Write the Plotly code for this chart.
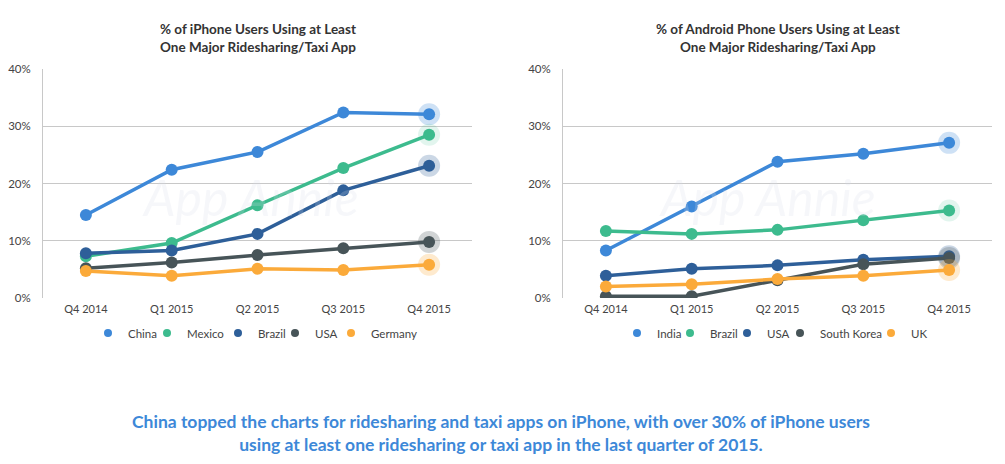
import plotly.graph_objects as go

quarters = ["Q4 2014", "Q1 2015", "Q2 2015", "Q3 2015", "Q4 2015"]

ios_names = ["China", "Mexico", "Brazil", "USA", "Germany"]
ios_china = [14.5, 22.4, 25.5, 32.4, 32.1]
ios_mexico = [7.3, 9.6, 16.2, 22.7, 28.5]
ios_brazil = [7.8, 8.3, 11.2, 18.8, 23.1]
ios_usa = [5.2, 6.2, 7.5, 8.7, 9.8]
ios_germany = [4.7, 3.9, 5.1, 4.9, 5.8]

and_names = ["India", "Brazil", "USA", "South Korea", "UK"]
and_india = [8.3, 16.0, 23.8, 25.2, 27.1]
and_brazil = [11.7, 11.2, 11.9, 13.6, 15.3]
and_usa = [3.9, 5.1, 5.7, 6.7, 7.3]
and_korea = [0.3, 0.3, 3.1, 5.9, 7.0]
and_uk = [2.0, 2.4, 3.3, 3.9, 4.9]

y_ticks = [0, 10, 20, 30, 40]
y_tick_labels = ["0%", "10%", "20%", "30%", "40%"]

colors = ["#3d88d8", "#3dbb8e", "#2e5f99", "#475458", "#fbaa3a"]
halo_colors = ["rgba(61,136,216,0.25)", "rgba(61,187,142,0.15)", "rgba(46,95,153,0.25)",
               "rgba(71,84,88,0.25)", "rgba(251,170,58,0.25)"]

# legend entry widths (px) to tighten spacing like the reference
ios_legend_w = [14, 26, 12, 11, 46]
and_legend_w = [8, 12, 8, 46, 16]

FONT = "Lato"
W, H = 1005, 464
OFF = 8  # page body offset


def px(x):
    return (x - OFF) / W


def py(y):
    return 1 - (y - OFF) / H


fig = go.Figure()


def add_group(names, series, xa, ya, legend, lw):
    for i, (n, s) in enumerate(zip(names, series)):
        fig.add_trace(go.Scatter(
            x=quarters, y=s, mode="lines+markers", name=n,
            line=dict(color=colors[i], width=3.5),
            marker=dict(color=colors[i], size=12),
            xaxis=xa, yaxis=ya, showlegend=False, hoverinfo="skip"))
        fig.add_trace(go.Scatter(
            x=quarters[-1:], y=s[-1:], mode="markers",
            marker=dict(color=halo_colors[i], size=22),
            xaxis=xa, yaxis=ya, showlegend=False, hoverinfo="skip"))
    for i, n in enumerate(names):
        fig.add_trace(go.Scatter(
            x=[None], y=[None], mode="markers", name=n,
            marker=dict(color=colors[i], size=8, symbol="circle"),
            xaxis=xa, yaxis=ya, legend=legend, showlegend=True, legendwidth=lw[i]))


add_group(ios_names, [ios_china, ios_mexico, ios_brazil, ios_usa, ios_germany], "x", "y", "legend", ios_legend_w)
add_group(and_names, [and_india, and_brazil, and_usa, and_korea, and_uk], "x2", "y2", "legend2", and_legend_w)

ydom = [py(298), py(69)]

xcommon = dict(range=[-0.5, 4.5], showgrid=False, zeroline=False, showline=False,
               tickfont=dict(family=FONT, size=11, color="#444"), ticks="",
               ticklabelstandoff=3, fixedrange=True, automargin=False)
ycommon = dict(range=[0, 40], tickmode="array", tickvals=y_ticks, ticktext=y_tick_labels,
               showgrid=True, gridcolor="#c8c8c8", gridwidth=1, zeroline=False,
               showline=True, linecolor="#c8c8c8", linewidth=1,
               tickfont=dict(family=FONT, size=11.5, color="#444"), ticklabelstandoff=9,
               fixedrange=True, automargin=False)

legend_common = dict(orientation="h", yanchor="middle", xanchor="left",
                     font=dict(family=FONT, size=11.5, color="#444"), itemwidth=30,
                     tracegroupgap=0, bgcolor="rgba(0,0,0,0)", entrywidthmode="pixels")

fig.update_layout(
    width=W, height=H,
    margin=dict(l=0, r=0, t=0, b=0, pad=0, autoexpand=False),
    paper_bgcolor="white", plot_bgcolor="rgba(0,0,0,0)",
    font=dict(family=FONT, color="#333"),
    xaxis=dict(domain=[px(43), px(472)], anchor="y", **xcommon),
    yaxis=dict(domain=ydom, anchor="x", **ycommon),
    xaxis2=dict(domain=[px(563), px(992)], anchor="y2", **xcommon),
    yaxis2=dict(domain=ydom, anchor="x2", **ycommon),
    legend=dict(x=px(88), y=py(333), **legend_common),
    legend2=dict(x=px(617), y=py(333), **legend_common),
)

wm_font = dict(family=FONT, size=50, color="rgba(215,220,230,0.22)")
annotations = [
    dict(text="<i>App Annie</i>", x=px(250), y=py(197), xref="paper", yref="paper",
         xanchor="center", yanchor="middle", showarrow=False, font=wm_font),
    dict(text="<i>App Annie</i>", x=px(767), y=py(197), xref="paper", yref="paper",
         xanchor="center", yanchor="middle", showarrow=False, font=wm_font),
    dict(text="<b>% of iPhone Users Using at Least<br>One Major Ridesharing/Taxi App</b>",
         x=px(258), y=py(38), xref="paper", yref="paper", xanchor="center", yanchor="middle",
         showarrow=False, font=dict(family=FONT, size=13.5, color="#333"), align="center"),
    dict(text="<b>% of Android Phone Users Using at Least<br>One Major Ridesharing/Taxi App</b>",
         x=px(778), y=py(38), xref="paper", yref="paper", xanchor="center", yanchor="middle",
         showarrow=False, font=dict(family=FONT, size=13.5, color="#333"), align="center"),
    dict(text="<b>China topped the charts for ridesharing and taxi apps on iPhone, with over 30% of iPhone users<br>using at least one ridesharing or taxi app in the last quarter of 2015.</b>",
         x=px(501), y=py(433), xref="paper", yref="paper", xanchor="center", yanchor="middle",
         showarrow=False, font=dict(family=FONT, size=17.5, color="#3d88d8"), align="center"),
]
fig.update_layout(annotations=annotations)

fig.write_html("out.html")
